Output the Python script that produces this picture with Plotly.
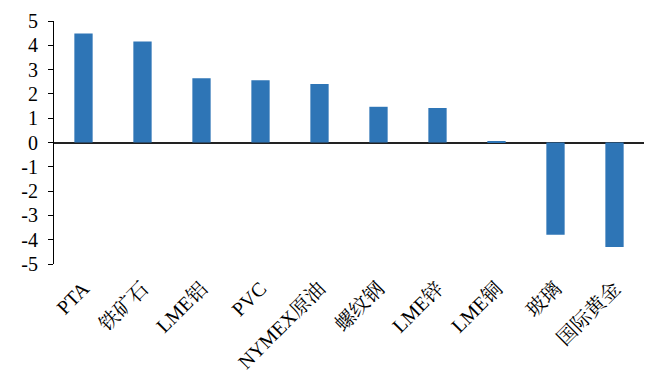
import plotly.graph_objects as go

# Commodity price changes (%)
categories = ["PTA", "铁矿石", "LME铝", "PVC", "NYMEX原油", "螺纹钢", "LME锌", "LME铜", "玻璃", "国际黄金"]
changes = [4.49, 4.16, 2.64, 2.56, 2.41, 1.47, 1.42, 0.03, -3.80, -4.30]
y_ticks = [5, 4, 3, 2, 1, 0, -1, -2, -3, -4, -5]

font_family = "Times New Roman, Liberation Serif, Noto Serif CJK SC, Noto Sans CJK SC, serif"

fig = go.Figure(
    go.Bar(
        x=categories,
        y=changes,
        marker=dict(color="#2E75B6", line=dict(width=0)),
    )
)

fig.update_layout(
    width=649,
    height=378,
    margin=dict(l=54, r=5, t=21, b=112),
    paper_bgcolor="white",
    plot_bgcolor="white",
    bargap=0.69,
    showlegend=False,
    font=dict(family=font_family, size=18, color="black"),
)

fig.update_xaxes(
    type="category",
    tickangle=-45,
    showline=False,
    showgrid=False,
    ticks="",
    ticklabelstandoff=8,
    tickfont=dict(size=20),
)

fig.update_yaxes(
    range=[-5, 5],
    tickvals=y_ticks,
    ticktext=[str(v) for v in y_ticks],
    showgrid=False,
    showline=True,
    linecolor="black",
    linewidth=1,
    ticks="outside",
    ticklen=5,
    tickcolor="black",
    ticklabelstandoff=6,
    zeroline=True,
    zerolinecolor="#222222",
    zerolinewidth=1.5,
    tickfont=dict(size=20),
)

fig.write_html("out.html")
